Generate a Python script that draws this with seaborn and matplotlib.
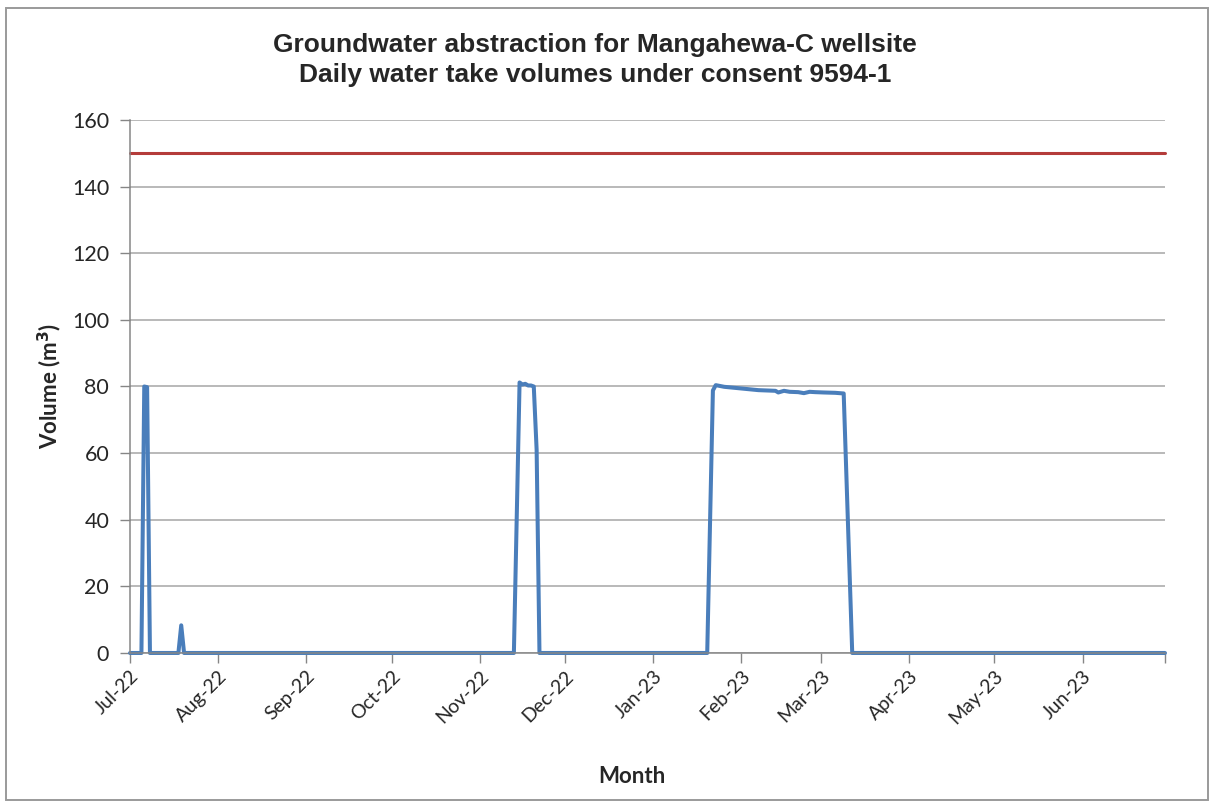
import pandas as pd
import numpy as np
import seaborn as sns
import matplotlib.pyplot as plt
from matplotlib.patches import Rectangle

# daily water take (m3)
take_dates = ['2022-07-01', '2022-07-05', '2022-07-06', '2022-07-07', '2022-07-08',
              '2022-07-18', '2022-07-19', '2022-07-20',
              '2022-11-13', '2022-11-15', '2022-11-16', '2022-11-17', '2022-11-18',
              '2022-11-19', '2022-11-20', '2022-11-21', '2022-11-22',
              '2023-01-20', '2023-01-22', '2023-01-23', '2023-01-26', '2023-02-01',
              '2023-02-07', '2023-02-13', '2023-02-14', '2023-02-16', '2023-02-18',
              '2023-02-21', '2023-02-23', '2023-02-25', '2023-02-27', '2023-03-02',
              '2023-03-06', '2023-03-09', '2023-03-12', '2023-06-30']
take_volumes = [0, 0, 80, 79.8, 0,
                0, 8.3, 0,
                0, 81.2, 80.6, 80.8, 80.3,
                80.3, 80.0, 61, 0,
                0, 78.8, 80.4, 79.9, 79.4,
                78.9, 78.7, 78.2, 78.7, 78.4,
                78.3, 78.0, 78.4, 78.3, 78.2,
                78.1, 77.9, 0, 0]

# consent limit
limit_dates = ['2022-07-01', '2023-06-30']
limit_volumes = [150, 150]

month_ticks = pd.date_range('2022-07-01', '2023-06-01', freq='MS')

take = pd.DataFrame({'date': pd.to_datetime(take_dates), 'volume': take_volumes})
limit = pd.DataFrame({'date': pd.to_datetime(limit_dates), 'volume': limit_volumes})

sns.set_style('white')
plt.rcParams['font.family'] = ['Lato', 'DejaVu Sans']

fig = plt.figure(figsize=(12.12, 8.01), dpi=100)
ax = fig.add_axes([0.1073, 0.1848, 0.8539, 0.6654])

sns.lineplot(data=limit, x='date', y='volume', color='#B43C3A', linewidth=2.2, ax=ax)
sns.lineplot(data=take, x='date', y='volume', color='#4A7EBB', linewidth=2.9, ax=ax)
for ln in ax.lines:
    ln.set_clip_on(False)

ax.set_xlim(pd.Timestamp('2022-07-01'), pd.Timestamp('2023-06-30'))
ax.set_ylim(0, 160)
ax.set_yticks(np.arange(0, 161, 20))
ax.yaxis.grid(True, color='#A6A6A6', linewidth=1.1)
ax.xaxis.grid(False)
ax.set_axisbelow(True)

ticks = list(month_ticks) + [pd.Timestamp('2023-06-30')]
ax.set_xticks(ticks)
ax.set_xticklabels([d.strftime('%b-%y') for d in month_ticks] + [''],
                   rotation=45, ha='right', rotation_mode='anchor', fontsize=14)
ax.tick_params(axis='y', labelsize=15.5, pad=8)
ax.tick_params(axis='both', direction='out', length=7, color='#868686', width=1, bottom=True, left=True)

for s in ['top', 'right']:
    ax.spines[s].set_visible(False)
for s in ['left', 'bottom']:
    ax.spines[s].set_color('#868686')
    ax.spines[s].set_linewidth(1.1)

ax.set_xlabel('Month', fontsize=16, fontweight='bold')
ax.set_ylabel('Volume (m$^\\mathbf{3}$)', fontsize=16, fontweight='bold')
ax.xaxis.set_label_coords(0.485, -0.212)
ax.yaxis.set_label_coords(-0.064, 0.5)

fig.text(0.491, 0.944, 'Groundwater abstraction for Mangahewa-C wellsite',
         ha='center', va='center', fontsize=19, fontweight='bold', family=['Liberation Sans'])
fig.text(0.491, 0.906, 'Daily water take volumes under consent 9594-1',
         ha='center', va='center', fontsize=19, fontweight='bold', family=['Liberation Sans'])

fig.patches.append(Rectangle((6 / 1212, 0.001), 1202 / 1212, 1 - 8 / 801 - 0.001,
                             transform=fig.transFigure, fill=False,
                             edgecolor='#9A9A9A', linewidth=1.4))

fig.savefig('out.png', dpi=100)
